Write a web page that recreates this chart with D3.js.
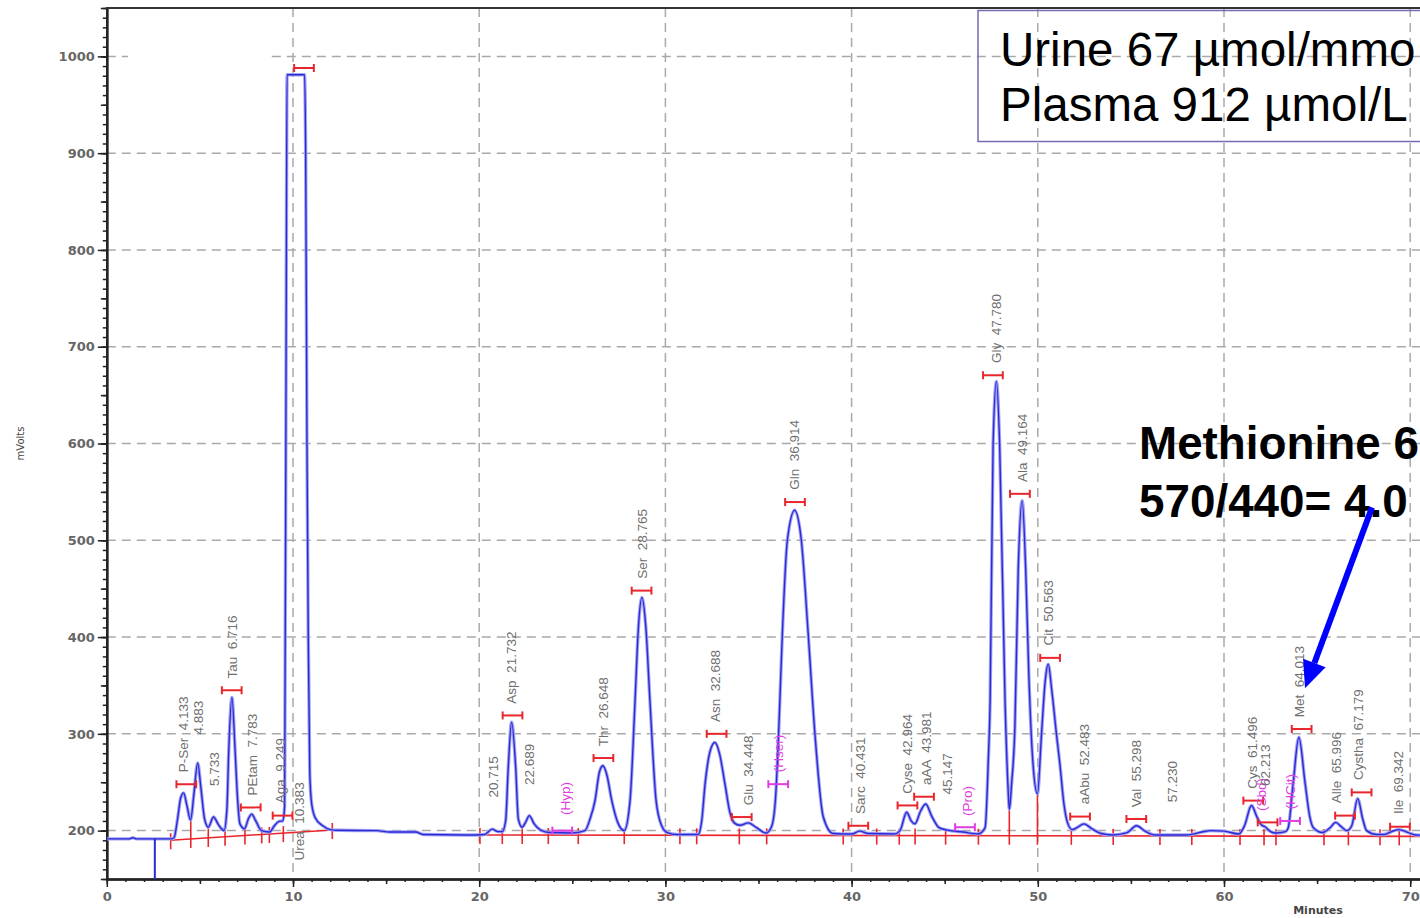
<!DOCTYPE html>
<html>
<head>
<meta charset="utf-8">
<script src="https://cdn.jsdelivr.net/npm/d3@7"></script>
<style>
  body { margin: 0; background: #fff; }
  svg { display: block; }
</style>
</head>
<body>
<svg id="chart" width="1420" height="918"></svg>
<script>
// chromatogram trace: [minutes, mVolts]
const trace = [
  [0, 191.5], [1.2, 191.5], [1.4, 192.6], [1.6, 191.5], [3.5, 191.5], [3.62, 193],
  [3.8, 212], [3.97, 234], [4.13, 239], [4.3, 226], [4.5, 211], [4.68, 238], [4.88, 270],
  [5.05, 245], [5.25, 212], [5.45, 203.5], [5.73, 214], [6.0, 206], [6.3, 200],
  [6.45, 222], [6.55, 283], [6.72, 337.5], [6.89, 283], [7.0, 240], [7.15, 207], [7.4, 202],
  [7.6, 212], [7.78, 217], [8.0, 210], [8.3, 200], [8.73, 198.5], [9.0, 205], [9.25, 209.5],
  [9.45, 210], [9.55, 225], [9.63, 700], [9.68, 981], [10.62, 981], [10.68, 900], [10.75, 600],
  [10.82, 400], [10.9, 260], [11.0, 228], [11.2, 213], [11.6, 205], [12.0, 201], [12.4, 200.3],
  [14.5, 200], [15.2, 198.5], [16.6, 198.5], [17.0, 196], [19.8, 195.5],
  [20.3, 196], [20.7, 201.5], [21.0, 199], [21.24, 199], [21.42, 210], [21.56, 265], [21.74, 312],
  [21.96, 265], [22.1, 212], [22.3, 203.5], [22.5, 209], [22.69, 215.5], [22.95, 207], [23.3, 200.5],
  [23.8, 198], [25.0, 197.5], [25.68, 200], [25.95, 212], [26.22, 231], [26.45, 260], [26.64, 267],
  [26.85, 258], [27.12, 231], [27.45, 208], [27.79, 200],
  [28.1, 231], [28.37, 334], [28.55, 410], [28.74, 441], [28.95, 410], [29.17, 334], [29.5, 231],
  [29.8, 205], [30.1, 198], [30.6, 196], [31.77, 196],
  [31.95, 210], [32.13, 248], [32.4, 282], [32.66, 291], [32.9, 280], [33.2, 248], [33.45, 220],
  [33.7, 208], [34.0, 205.5], [34.45, 208], [34.9, 203], [35.4, 197.5],
  [35.7, 204], [35.92, 235], [36.1, 310], [36.28, 403], [36.55, 500], [36.94, 531], [37.3, 500],
  [37.67, 403], [38.03, 300], [38.48, 214], [39.0, 197], [39.5, 196.5], [40.0, 196.5],
  [40.43, 199.5], [40.9, 197], [42.3, 196.5],
  [42.6, 200], [42.96, 219], [43.2, 210], [43.4, 207], [43.7, 220], [43.98, 227.5], [44.3, 215],
  [44.7, 203], [45.15, 200.5], [46.0, 198.5], [46.8, 196.5],
  [47.17, 203], [47.34, 272], [47.44, 334], [47.6, 600], [47.78, 664], [47.95, 600], [48.24, 334],
  [48.4, 245], [48.47, 222],
  [48.6, 250], [48.77, 307], [48.95, 470], [49.16, 541], [49.35, 470], [49.52, 360], [49.72, 275],
  [49.98, 238],
  [50.2, 300], [50.4, 355], [50.56, 372], [50.75, 345], [51.0, 300], [51.19, 268], [51.4, 228],
  [51.6, 208], [51.85, 201], [52.1, 203], [52.48, 207], [52.9, 202], [53.4, 197], [54.0, 195.5],
  [54.8, 198], [55.3, 205], [55.8, 199], [56.3, 195.5], [58.0, 195.5], [58.8, 198.5], [59.3, 200],
  [60.0, 199.5], [60.8, 196.5], [61.1, 205], [61.48, 226], [61.75, 215], [62.0, 206], [62.2, 204],
  [62.5, 199], [62.8, 197.5], [63.3, 199], [63.45, 203], [63.72, 250], [64.02, 296.5], [64.35, 250],
  [64.6, 215], [64.8, 203], [65.3, 198], [65.7, 203], [66.0, 208.5], [66.3, 204], [66.6, 200],
  [66.86, 205], [67.18, 233], [67.45, 212], [67.66, 200], [68.2, 196], [68.6, 196], [69.0, 199],
  [69.4, 201], [69.9, 198], [70.3, 195.5], [72, 195]
];
const injectTime = 2.58;

// red integration baselines and boundary marks
const baseSegments = [[[3.43, 190], [12.11, 200.7]], [[20.04, 195.5], [72, 194]]];
const boundaryTimes = [3.43, 6.35, 7.42, 8.32, 8.73, 9.48, 12.11, 20.04, 21.24, 22.31, 23.71,
  25.32, 27.79, 30.78, 31.68, 33.97, 35.44, 39.55, 41.35, 42.56, 43.41, 45.05, 46.81, 51.8,
  54.05, 56.56, 58.27, 60.86, 62.15, 62.79, 65.37, 66.68, 68.38, 69.41];
const dropTimes = [4.51, 5.45, 48.47, 49.98];
const dropTops = [211, 204, 222, 238];

// peak labels
const labelText = ["P-Ser  4.133", "4.883", "5.733", "Tau  6.716", "PEtam  7.783", "Aga  9.249",
  "Urea  10.383", "20.715", "Asp  21.732", "22.689", "(Hyp)", "Thr  26.648", "Ser  28.765",
  "Asn  32.688", "Glu  34.448", "(Hser)", "Gln  36.914", "Sarc  40.431", "Cyse  42.964",
  "aAA  43.981", "45.147", "(Pro)", "Gly  47.780", "Ala  49.164", "Cit  50.563", "aAbu  52.483",
  "Val  55.298", "57.230", "Cys  61.496", "(Sbd)", "62.213", "(HCit)", "Met  64.013",
  "Alle  65.996", "Cystha  67.179", "Ile  69.342"];
const labelTime = [4.1, 4.883, 5.733, 6.716, 7.783, 9.3, 10.3, 20.715, 21.732, 22.689, 24.6,
  26.648, 28.765, 32.688, 34.448, 36.06, 36.914, 40.431, 42.964, 43.981, 45.147, 46.2, 47.78,
  49.164, 50.563, 52.483, 55.298, 57.23, 61.496, 62.0, 62.213, 63.55, 64.013, 65.996, 67.179,
  69.342];
const labelStart = [254, 293, 240, 351, 230, 222, 163, 228, 325, 241, 210, 281, 454, 306, 220,
  254, 546, 211, 232, 241, 231, 209, 677, 554, 385, 221, 218, 223, 237, 214, 240, 216, 311, 222,
  246, 211];

const redBarTime = [4.27, 6.71, 7.73, 9.44, 10.59, 21.79, 26.67, 28.72, 32.75, 34.1, 36.96,
  40.36, 43.0, 43.89, 47.59, 49.04, 50.66, 52.27, 55.29, 61.57, 62.34, 64.17, 66.5, 67.39, 69.45];
const redBarMV = [248, 345, 224, 215.5, 988, 319, 275, 448, 300, 214, 539.5, 205, 226, 235,
  670.5, 548, 378.5, 214.5, 212, 231, 208.5, 305, 215.5, 239.5, 204];
const expBarTime = [24.46, 36.06, 46.09, 63.55];
const expBarMV = [200, 248, 203.5, 210];

const yMajor = [200, 300, 400, 500, 600, 700, 800, 900, 1000];
const xMajor = [0, 10, 20, 30, 40, 50, 60, 70];

const boxLines = ["Urine 67 µmol/mmo", "Plasma 912 µmol/L"];
const noteLines = ["Methionine 6", "570/440= 4.0"];
const arrowFrom = [67.95, 534], arrowTo = [64.35, 347];

const W = 1420, H = 918;
const svg = d3.select("#chart");
const x = d3.scaleLinear().domain([0, 75]).range([106.8, 106.8 + 75 * 18.62]);
const y = d3.scaleLinear().domain([150, 1050]).range([879, 8]);
const RED = "#e8262c", MAG = "#e03ce0", GRAYTXT = "#6f6f6f";

// grid
const grid = svg.append("g").attr("stroke", "#a9a9a9").attr("stroke-width", 1.5)
  .attr("stroke-dasharray", "9,6");
grid.selectAll(".gv").data(xMajor.slice(1)).join("line")
  .attr("x1", d => x(d)).attr("x2", d => x(d)).attr("y1", y(1050)).attr("y2", y(150));
grid.selectAll(".gh").data(yMajor).join("line")
  .attr("x1", x(0)).attr("x2", W).attr("y1", d => y(d)).attr("y2", d => y(d));
// patch that hides part of the 1000 line in the source
svg.append("rect").attr("x", 128).attr("y", 44).attr("width", 143).attr("height", 22).attr("fill", "#fff");

// axes
const yAx = svg.append("g").attr("transform", `translate(${x(0)},0)`);
yAx.append("g").call(d3.axisLeft(y).tickValues(d3.range(150, 1051, 10)).tickSize(4).tickSizeOuter(0).tickFormat(""));
yAx.append("g").call(d3.axisLeft(y).tickValues(d3.range(150, 1051, 50)).tickSize(6).tickSizeOuter(0).tickFormat(""));
yAx.append("g").call(d3.axisLeft(y).tickValues(yMajor).tickSize(9).tickPadding(3).tickSizeOuter(0)
  .tickFormat(d3.format("d")));
const xAx = svg.append("g").attr("transform", `translate(0,${y(150)})`);
xAx.append("g").call(d3.axisBottom(x).tickValues(d3.range(0, 76, 1)).tickSize(3).tickSizeOuter(0).tickFormat(""));
xAx.append("g").call(d3.axisBottom(x).tickValues(d3.range(0, 76, 5)).tickSize(5).tickSizeOuter(0).tickFormat(""));
xAx.append("g").call(d3.axisBottom(x).tickValues(xMajor).tickSize(8).tickPadding(5).tickSizeOuter(0)
  .tickFormat(d3.format("d")));
svg.selectAll(".domain").attr("stroke", "#222").attr("stroke-width", 2);
svg.selectAll(".tick line").attr("stroke", "#222").attr("stroke-width", 1.5);
svg.selectAll(".tick text").attr("font-family", "DejaVu Sans, sans-serif").attr("font-weight", "bold")
  .attr("font-size", 13).attr("fill", "#666");
svg.append("line").attr("x1", x(0) - 1).attr("x2", W).attr("y1", y(1050)).attr("y2", y(1050))
  .attr("stroke", "#333").attr("stroke-width", 2);

svg.append("text").attr("transform", `translate(24,${y(600)}) rotate(-90)`).attr("text-anchor", "middle")
  .attr("font-family", "DejaVu Sans, sans-serif").attr("font-size", 10).attr("fill", "#444").text("mVolts");
svg.append("text").attr("x", 1318).attr("y", 914).attr("text-anchor", "middle")
  .attr("font-family", "DejaVu Sans, sans-serif").attr("font-weight", "bold").attr("font-size", 11)
  .attr("fill", "#444").text("Minutes");

// plot content
svg.append("clipPath").attr("id", "plotclip").append("rect")
  .attr("x", x(0)).attr("y", y(1050)).attr("width", W - x(0)).attr("height", y(150) - y(1050));
const plot = svg.append("g").attr("clip-path", "url(#plotclip)");

const baseAt = t => {
  for (const s of baseSegments) {
    if (t >= s[0][0] - 0.01 && t <= s[1][0] + 0.01) {
      const f = (t - s[0][0]) / (s[1][0] - s[0][0]);
      return s[0][1] + f * (s[1][1] - s[0][1]);
    }
  }
  return 196;
};

// red baselines
plot.selectAll(".base").data(baseSegments).join("line")
  .attr("x1", d => x(d[0][0])).attr("y1", d => y(d[0][1]))
  .attr("x2", d => x(d[1][0])).attr("y2", d => y(d[1][1]))
  .attr("stroke", RED).attr("stroke-width", 1.6);
plot.selectAll(".btick").data(boundaryTimes).join("line")
  .attr("x1", d => x(d)).attr("x2", d => x(d))
  .attr("y1", d => y(baseAt(d)) - 7).attr("y2", d => y(baseAt(d)) + 9)
  .attr("stroke", RED).attr("stroke-width", 1.6);
plot.selectAll(".drop").data(dropTimes).join("line")
  .attr("x1", d => x(d)).attr("x2", d => x(d))
  .attr("y1", (d, i) => y(dropTops[i])).attr("y2", d => y(baseAt(d)) + 9)
  .attr("stroke", RED).attr("stroke-width", 1.6);

// trace
const line = d3.line().x(d => x(d[0])).y(d => y(d[1])).curve(d3.curveMonotoneX);
plot.append("path").datum(trace).attr("d", line).attr("fill", "none")
  .attr("stroke", "#a3a3f2").attr("stroke-width", 3.4);
plot.append("path").datum(trace).attr("d", line).attr("fill", "none")
  .attr("stroke", "#2a2ad8").attr("stroke-width", 1.4);
plot.append("line").attr("x1", x(injectTime)).attr("x2", x(injectTime))
  .attr("y1", y(trace[0][1])).attr("y2", y(150)).attr("stroke", "#2a2ad8").attr("stroke-width", 2);

// window bars
function bars(times, levels, color) {
  const g = plot.append("g").attr("stroke", color).attr("stroke-width", 2);
  times.forEach((t, i) => {
    const x0 = x(t - 0.53), x1 = x(t + 0.53), yy = y(levels[i]);
    g.append("line").attr("x1", x0).attr("x2", x1).attr("y1", yy).attr("y2", yy);
    g.append("line").attr("x1", x0).attr("x2", x0).attr("y1", yy - 4).attr("y2", yy + 4);
    g.append("line").attr("x1", x1).attr("x2", x1).attr("y1", yy - 4).attr("y2", yy + 4);
  });
}
bars(redBarTime, redBarMV, RED);
bars(expBarTime, expBarMV, MAG);

// rotated labels
plot.selectAll(".plabel").data(labelText).join("text")
  .attr("transform", (d, i) => `translate(${x(labelTime[i]) + 5},${y(labelStart[i]) - 6}) rotate(-90)`)
  .attr("font-family", "Liberation Sans, Arial, sans-serif").attr("font-size", 13.5)
  .attr("fill", d => d.startsWith("(") ? MAG : GRAYTXT)
  .attr("xml:space", "preserve").style("white-space", "pre")
  .text(d => d);

// annotation box
svg.append("rect").attr("x", 978).attr("y", 10.5).attr("width", 500).attr("height", 131)
  .attr("fill", "none").attr("stroke", "#7a68b2").attr("stroke-width", 1.5);
svg.selectAll(".boxline").data(boxLines).join("text")
  .attr("x", 1000).attr("y", (d, i) => 66 + i * 55)
  .attr("font-family", "Liberation Sans, Arial, sans-serif").attr("font-size", 47.5).attr("fill", "#000")
  .text(d => d);
svg.selectAll(".note").data(noteLines).join("text")
  .attr("x", 1139).attr("y", (d, i) => 459 + i * 58)
  .attr("font-family", "Liberation Sans, Arial, sans-serif").attr("font-weight", "bold")
  .attr("font-size", 45.8).attr("fill", "#000").text(d => d);

// arrow
const ax0 = x(arrowFrom[0]), ay0 = y(arrowFrom[1]), ax1 = x(arrowTo[0]), ay1 = y(arrowTo[1]);
const len = Math.hypot(ax1 - ax0, ay1 - ay0), ux = (ax1 - ax0) / len, uy = (ay1 - ay0) / len;
const bx = ax1 - ux * 27, by = ay1 - uy * 27;
svg.append("line").attr("x1", ax0).attr("y1", ay0).attr("x2", bx).attr("y2", by)
  .attr("stroke", "#0000ff").attr("stroke-width", 6);
svg.append("polygon").attr("fill", "#0000ff")
  .attr("points", [[ax1, ay1], [bx - uy * 12, by + ux * 12], [bx + uy * 12, by - ux * 12]].join(" "));
</script>
</body>
</html>
